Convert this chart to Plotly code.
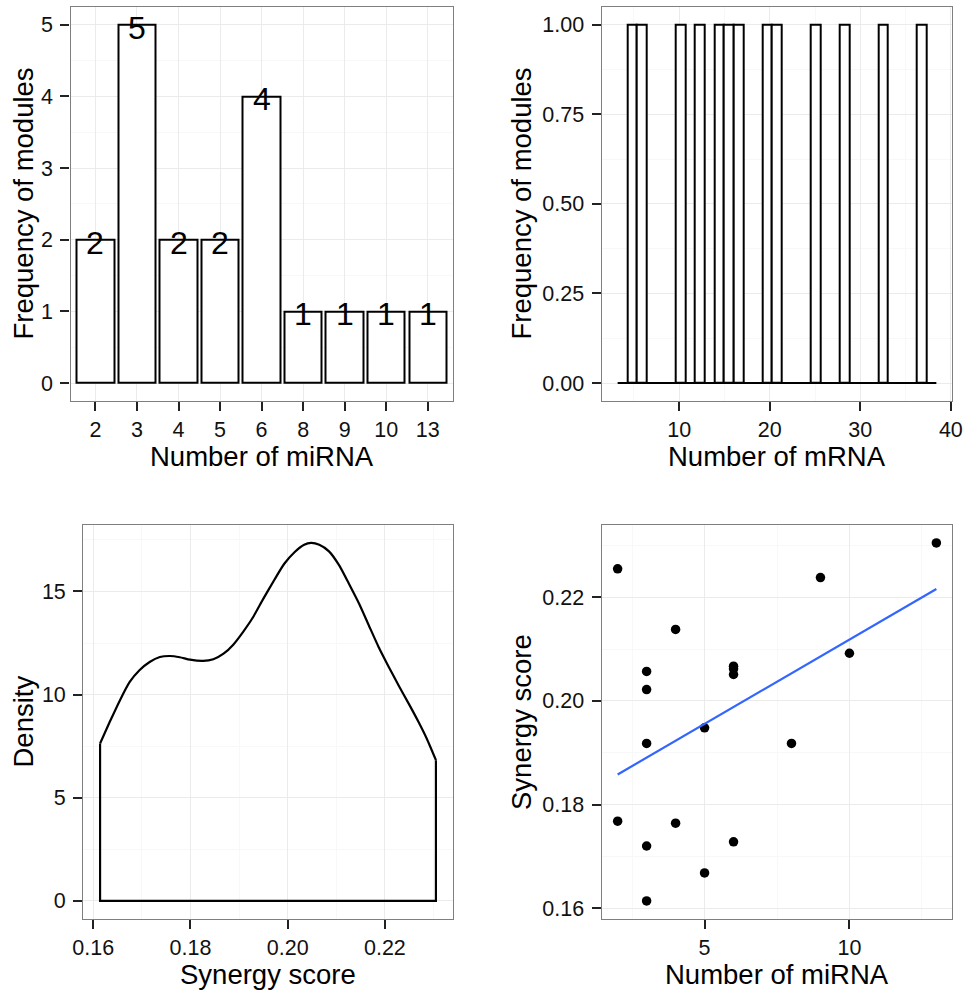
import plotly.graph_objects as go

# ---------------- data ----------------
mirna_cats = ["2", "3", "4", "5", "6", "8", "9", "10", "13"]
mirna_counts = [2, 5, 2, 2, 4, 1, 1, 1, 1]

mrna_values = [5, 6, 10, 12, 14, 15, 17, 20, 21, 25, 28, 33, 37]
mrna_bin_start = 3.2
mrna_bin_end = 38.4
mrna_bin_size = 32 / 30

density_x = [0.1614, 0.1634, 0.1655, 0.1675, 0.1695, 0.1716, 0.1737, 0.1758, 0.1778,
             0.1799, 0.1826, 0.1847, 0.1868, 0.1888, 0.1908, 0.1929, 0.1950, 0.1973,
             0.1993, 0.2014, 0.2034, 0.2048, 0.2065, 0.2085, 0.2106, 0.2126, 0.2147,
             0.2167, 0.2187, 0.2208, 0.2228, 0.2249, 0.2269, 0.2286, 0.2305]
density_y = [7.63, 8.68, 9.73, 10.61, 11.18, 11.58, 11.82, 11.87, 11.81,
             11.69, 11.63, 11.71, 11.98, 12.42, 13.03, 13.76, 14.65, 15.58,
             16.34, 16.90, 17.26, 17.35, 17.26, 16.94, 16.26, 15.37, 14.40,
             13.35, 12.31, 11.34, 10.45, 9.56, 8.68, 7.87, 6.82]

scatter_mirna = [2, 2, 3, 3, 3, 3, 3, 4, 4, 5, 5, 6, 6, 6, 6, 8, 9, 10, 13]
scatter_synergy = [0.2255, 0.1768, 0.2057, 0.2022, 0.1918, 0.1720, 0.1614, 0.2138, 0.1764,
                   0.1948, 0.1668, 0.2067, 0.2062, 0.2051, 0.1728, 0.1918, 0.2238, 0.2092, 0.2305]

fit_x = [2, 13]
fit_y = [0.1858, 0.2216]

# ---------------- style ----------------
FONT = "Liberation Sans, Arial, Helvetica, sans-serif"
W, H = 967, 992
GRID_MAJOR = "#ebebeb"
GRID_MINOR = "#f8f8f8"
BORDER = "#7f7f7f"

fig = go.Figure()

# Top-left: miRNA bar chart
fig.add_trace(go.Bar(x=mirna_cats, y=mirna_counts, width=0.9,
                     marker=dict(color="white", line=dict(color="black", width=2)),
                     xaxis="x", yaxis="y", showlegend=False, hoverinfo="x+y"))

# Top-right: mRNA histogram
fig.add_trace(go.Scatter(x=[mrna_bin_start, mrna_bin_end], y=[0, 0], mode="lines",
                         line=dict(color="black", width=2), xaxis="x2", yaxis="y2",
                         showlegend=False, hoverinfo="skip"))
fig.add_trace(go.Histogram(x=mrna_values,
                           xbins=dict(start=mrna_bin_start, end=mrna_bin_end, size=mrna_bin_size),
                           marker=dict(color="white", line=dict(color="black", width=2)),
                           xaxis="x2", yaxis="y2", showlegend=False))

# Bottom-left: density
fig.add_trace(go.Scatter(x=[density_x[0], density_x[0], density_x[-1], density_x[-1]],
                         y=[density_y[0], 0, 0, density_y[-1]], mode="lines",
                         line=dict(color="black", width=2.2), xaxis="x3", yaxis="y3",
                         showlegend=False, hoverinfo="skip"))
fig.add_trace(go.Scatter(x=density_x, y=density_y, mode="lines",
                         line=dict(color="black", width=2.2, shape="spline", smoothing=0.6),
                         xaxis="x3", yaxis="y3", showlegend=False))

# Bottom-right: scatter + fit
fig.add_trace(go.Scatter(x=scatter_mirna, y=scatter_synergy, mode="markers",
                         marker=dict(color="black", size=9.5), xaxis="x4", yaxis="y4",
                         showlegend=False))
fig.add_trace(go.Scatter(x=fit_x, y=fit_y, mode="lines",
                         line=dict(color="#3366FF", width=2.2), xaxis="x4", yaxis="y4",
                         showlegend=False))


def px_x(v):
    return v / W


def px_y(v):
    return 1 - v / H


def axis_common(minor_dtick=None):
    d = dict(showline=True, mirror=True, linecolor=BORDER, linewidth=1.4,
             ticks="outside", ticklen=9, tickwidth=2, tickcolor="#222222",
             tickfont=dict(family=FONT, size=21.5, color="#111111"),
             showgrid=True, gridcolor=GRID_MAJOR, gridwidth=1.2,
             zeroline=False, automargin=False, fixedrange=True)
    if minor_dtick is not None:
        d["minor"] = dict(dtick=minor_dtick, showgrid=True, gridcolor=GRID_MINOR, gridwidth=1.4)
    return d


top_dom = [px_y(401), px_y(6.7)]
bot_dom = [px_y(918.8), px_y(525)]

xa1 = axis_common()
xa1.update(domain=[px_x(70.5), px_x(452.7)], type="category", range=[-0.6, 8.6],
           anchor="y", categoryorder="array", categoryarray=mirna_cats)
ya1 = axis_common(0.5)
ya1.update(domain=top_dom, range=[-0.25, 5.25], dtick=1, tick0=0, anchor="x",
           ticklabelstandoff=3)

xa2 = axis_common(5)
xa2.update(domain=[px_x(601.7), px_x(952.3)], range=[1.44, 40.16], dtick=10, tick0=0, anchor="y2")
ya2 = axis_common(0.125)
ya2.update(domain=top_dom, range=[-0.05, 1.05], dtick=0.25, tick0=0, tickformat=".2f", anchor="x2",
           ticklabelstandoff=3)

xa3 = axis_common(0.01)
xa3.update(domain=[px_x(83.3), px_x(452.7)], range=[0.15795, 0.23395], dtick=0.02, tick0=0.16,
           tickformat=".2f", anchor="y3")
ya3 = axis_common(2.5)
ya3.update(domain=bot_dom, range=[-0.87, 18.22], dtick=5, tick0=0, anchor="x3",
           ticklabelstandoff=3)

xa4 = axis_common(2.5)
xa4.update(domain=[px_x(601.7), px_x(952.3)], range=[1.45, 13.55], dtick=5, tick0=0, anchor="y4")
ya4 = axis_common(0.01)
ya4.update(domain=bot_dom, range=[0.15795, 0.23395], dtick=0.02, tick0=0.16, tickformat=".2f",
           anchor="x4", ticklabelstandoff=3)

TITLE_FONT = dict(family=FONT, size=27.5, color="black")


def ann(text, x, y, angle=0):
    return dict(text=text, x=px_x(x), y=px_y(y), xref="paper", yref="paper",
                showarrow=False, textangle=angle, font=TITLE_FONT,
                xanchor="center", yanchor="middle")


annotations = [
    ann("Number of miRNA", 261.6, 456),
    ann("Frequency of modules", 22.5, 204, -90),
    ann("Number of mRNA", 777, 456),
    ann("Frequency of modules", 520.5, 204, -90),
    ann("Synergy score", 268, 974),
    ann("Density", 22.5, 722, -90),
    ann("Number of miRNA", 777, 974),
    ann("Synergy score", 521, 722, -90),
]

# count labels on the miRNA bars, centred on the bar tops (category index positions)
for i, cnt in enumerate(mirna_counts):
    annotations.append(dict(text=str(cnt), x=i, y=cnt, xref="x", yref="y",
                            showarrow=False, xanchor="center", yanchor="middle", yshift=-3,
                            font=dict(family=FONT, size=32, color="black")))

fig.update_layout(width=W, height=H, margin=dict(l=0, r=0, t=0, b=0),
                  paper_bgcolor="white", plot_bgcolor="white",
                  xaxis=xa1, yaxis=ya1, xaxis2=xa2, yaxis2=ya2,
                  xaxis3=xa3, yaxis3=ya3, xaxis4=xa4, yaxis4=ya4,
                  annotations=annotations, bargap=0, showlegend=False)

fig.write_html("out.html", config={"displayModeBar": False},
               post_script="document.body.style.margin='0';document.body.style.overflow='hidden';")
